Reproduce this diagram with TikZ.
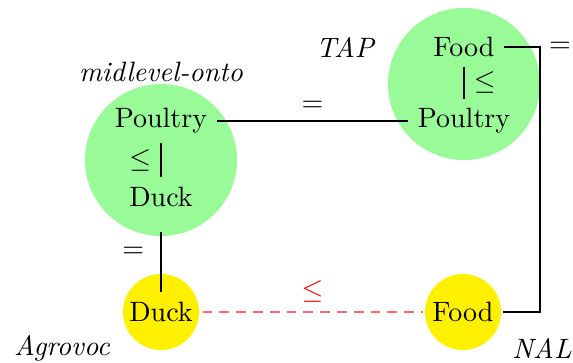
\documentclass[tikz,border=0pt]{standalone}
\usepackage{amssymb}
\definecolor{pgreen}{RGB}{152,251,152}
\definecolor{pyellow}{RGB}{255,240,0}
\begin{document}
\begin{tikzpicture}[x=0.3571pt,y=-0.3571pt,
  term/.style={inner sep=0.333em},
  lab/.style={font=\itshape},
  conn/.style={line width=0.4pt},
  bigc/.style={fill=pgreen},
  smallc/.style={fill=pyellow}]
\useasboundingbox (0,0) rectangle (573,363);
% circles
\fill[bigc] (161,160) circle (76);
\fill[bigc] (464,84) circle (76);
\fill[smallc] (161,312) circle (38);
\fill[smallc] (463,312) circle (38);
% terms
\node[term] (lpoul) at (161,121) {Poultry};
\node[term] (lduck) at (161,197) {Duck};
\node[term] (rfood) at (464,47) {Food};
\node[term] (rpoul) at (464,121) {Poultry};
\node[term] (yduck) at (161,312) {Duck};
\node[term] (yfood) at (463,312) {Food};
% ontology labels
\node[lab] (lmid) at (161,72) {midlevel-onto};
\node[lab] (ltap) at (345,47) {TAP};
\node[lab] (lagr) at (62,348) {Agrovoc};
\node[lab] (lnal) at (542,348) {NAL};
\coordinate (corner) at (540,180);
% connectors
\draw[conn] (lpoul) -- (lduck) node[midway,left] {$\leq$};
\draw[conn] (rfood) -- (rpoul) node[midway,right] {$\leq$};
\draw[conn] (lpoul) -- (rpoul) node[midway,above] {$=$};
\draw[conn,shorten <=5.4pt] (lduck.south) -- (yduck.north) node[pos=0.47,left=2.5pt] {$=$};
\draw[conn] (rfood.east) -- (rfood.east -| corner) |- (yfood.east);
\node (eqr) at (560,47) {$=$};
\draw[conn,red!60,dash pattern=on 3.5pt off 2.5pt] (yduck) -- (yfood) node[midway,above,red] {$\leq$};
\end{tikzpicture}
\end{document}
